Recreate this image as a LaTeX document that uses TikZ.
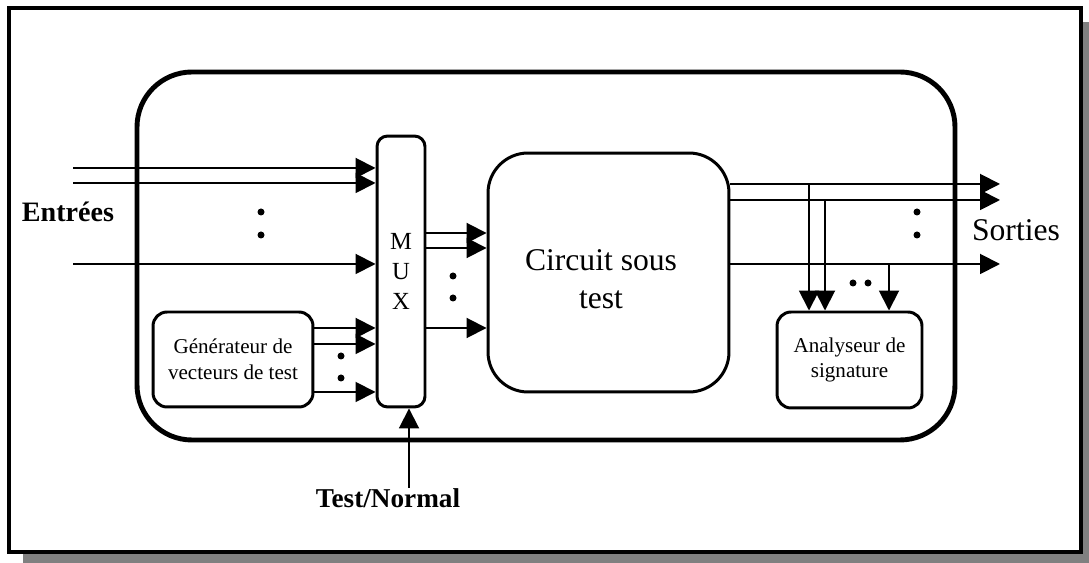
\documentclass[tikz,border=0pt]{standalone}
\usepackage{fontspec}
\setmainfont{Liberation Serif}
\usetikzlibrary{arrows.meta,positioning}

\tikzset{
    boite/.style={draw, line width=1.7pt, rounded corners=#1, inner sep=0pt, align=center, fill=white},
    fil/.style={line width=1.1pt, -{Triangle[length=0.4cm,width=0.4cm]}},
    trait/.style={line width=1.1pt},
    petit/.style={font=\fontsize{12}{14.5}\selectfont, align=center},
    grand/.style={font=\fontsize{18}{21.5}\selectfont, align=center},
}

\begin{document}
\begin{tikzpicture}[x=0.02cm, y=-0.02cm]
            \useasboundingbox (0,0) rectangle (1089,563);
            %%frame and shadow
            \fill[gray] (23,22) rectangle (1089,563);
            \draw[line width=2.3pt, fill=white] (9,8) rectangle (1081,552);
            \draw[line width=2.8pt, rounded corners=1.1cm] (137,72) rectangle (955,440);

            %%the blocks
            \node[boite=6pt, minimum width=0.96cm, minimum height=5.42cm,
                font=\fontsize{14}{17}\selectfont] (mux) at (401,271.5) {M\\U\\X};
            \node[boite=8pt, minimum width=3.2cm, minimum height=1.9cm, petit] (gen) at (233,359.5)
                {G\'en\'erateur de\\vecteurs de test};
            \node[boite=0.8cm, minimum width=4.82cm, minimum height=4.78cm] (cut) at (608.5,272.5) {};
                \node[grand] (cuttxt) at (601,279) {Circuit sous\\test};
            \node[boite=8pt, minimum width=2.9cm, minimum height=1.92cm, petit] (ana) at (849.5,360)
                {Analyseur de\\signature};

            %%labels
            \node[font=\fontsize{16}{19}\bfseries] (entrees) at (68,212) {Entrées};
            \node[grand] (sorties) at (1016,230) {Sorties};
            \node[font=\fontsize{15.5}{18}\bfseries] (tn) at (388,498) {Test/Normal};

            %%inputs
            \coordinate (e1) at (73,168);
            \coordinate (e2) at (73,183);
            \coordinate (e3) at (73,264);
            \draw[fil] (e1) -- (e1 -| mux.west);
            \draw[fil] (e2) -- (e2 -| mux.west);
            \draw[fil] (e3) -- (e3 -| mux.west);
                \fill (261,212) circle (3.5);
                \fill (261,235) circle (3.5);

            %%generator to mux
            \coordinate (g1) at (313,328);
            \coordinate (g2) at (313,344);
            \coordinate (g3) at (313,392);
            \draw[fil] (g1) -- (g1 -| mux.west);
            \draw[fil] (g2) -- (g2 -| mux.west);
            \draw[fil] (g3) -- (g3 -| mux.west);
                \fill (341,356) circle (3.5);
                \fill (341,378) circle (3.5);

            %%mux to circuit
            \coordinate (m1) at (425,233);
            \coordinate (m2) at (425,248);
            \coordinate (m3) at (425,328);
            \draw[fil] (m1) -- (m1 -| cut.west);
            \draw[fil] (m2) -- (m2 -| cut.west);
            \draw[fil] (m3) -- (m3 -| cut.west);
                \fill (453,276) circle (3.5);
                \fill (453,298) circle (3.5);

            %%outputs
            \coordinate (s1) at (1000,184);
            \coordinate (s2) at (1000,200);
            \coordinate (s3) at (1000,264);
            \draw[fil] (s1 -| cut.east) -- (s1);
            \draw[fil] (s2 -| cut.east) -- (s2);
            \draw[fil] (s3 -| cut.east) -- (s3);
                \fill (917,212) circle (3.5);
                \fill (917,235) circle (3.5);

            %%taps to the analyser
            \coordinate (t1) at (809,184);
            \coordinate (t2) at (825,200);
            \coordinate (t3) at (889,264);
            \draw[fil] (t1) -- (t1 |- ana.north);
            \draw[fil] (t2) -- (t2 |- ana.north);
            \draw[fil] (t3) -- (t3 |- ana.north);
                \fill (853,283) circle (3.5);
                \fill (868,283) circle (3.5);

            %%test/normal
            \coordinate (tnpt) at (409,488);
            \draw[fil] (tnpt) -- (tnpt |- mux.south);
\end{tikzpicture}
\end{document}
